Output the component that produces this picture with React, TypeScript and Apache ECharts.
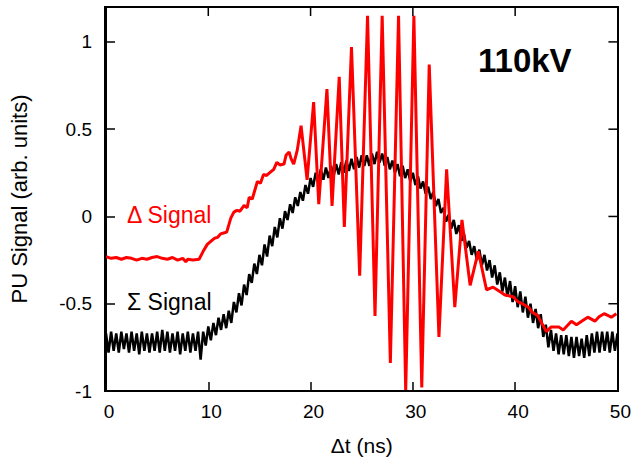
import React, { useEffect, useRef } from "react";
import * as echarts from "echarts";

// ---- Data ----
const xTicks = [0, 10, 20, 30, 40, 50];
const yTicks = [-1, -0.5, 0, 0.5, 1];
const X_MIN = 0;
const X_MAX = 50;
const Y_MIN = -1;
const Y_MAX = 1.2;

// Sigma signal: sampled every 0.25 ns from 0 to 50 ns
const sigmaStep = 0.25;
const sigmaValues = [
  -0.67, -0.78, -0.66, -0.77, -0.67, -0.78, -0.66, -0.76, -0.67, -0.78,
  -0.66, -0.77, -0.67, -0.79, -0.66, -0.77, -0.67, -0.78, -0.67, -0.77,
  -0.66, -0.78, -0.65, -0.77, -0.66, -0.78, -0.67, -0.77, -0.66, -0.79,
  -0.67, -0.77, -0.66, -0.78, -0.67, -0.77, -0.66, -0.82, -0.66, -0.74,
  -0.63, -0.71, -0.61, -0.68, -0.58, -0.65, -0.56, -0.64, -0.54, -0.61,
  -0.49, -0.55, -0.44, -0.51, -0.39, -0.45, -0.33, -0.38, -0.27, -0.33,
  -0.22, -0.28, -0.16, -0.23, -0.11, -0.17, -0.06, -0.12, -0.01, -0.07,
  0.03, -0.02, 0.07, 0.02, 0.11, 0.06, 0.14, 0.09, 0.18, 0.13,
  0.22, 0.17, 0.25, 0.2, 0.27, 0.21, 0.28, 0.22, 0.29, 0.23,
  0.3, 0.24, 0.31, 0.25, 0.32, 0.26, 0.33, 0.27, 0.34, 0.28,
  0.35, 0.29, 0.35, 0.29, 0.36, 0.3, 0.37, 0.31, 0.36, 0.29,
  0.34, 0.27, 0.32, 0.25, 0.3, 0.23, 0.29, 0.22, 0.27, 0.2,
  0.25, 0.18, 0.23, 0.16, 0.2, 0.13, 0.17, 0.1, 0.14, 0.06,
  0.1, 0.02, 0.05, -0.03, 0.01, -0.07, -0.02, -0.1, -0.05, -0.14,
  -0.1, -0.18, -0.14, -0.22, -0.17, -0.25, -0.19, -0.28, -0.22, -0.31,
  -0.25, -0.35, -0.28, -0.39, -0.32, -0.43, -0.35, -0.46, -0.37, -0.49,
  -0.4, -0.52, -0.43, -0.55, -0.46, -0.58, -0.5, -0.61, -0.53, -0.64,
  -0.56, -0.69, -0.62, -0.75, -0.65, -0.77, -0.67, -0.79, -0.68, -0.79,
  -0.68, -0.8, -0.69, -0.81, -0.69, -0.8, -0.7, -0.81, -0.68, -0.8,
  -0.67, -0.78, -0.66, -0.78, -0.66, -0.77, -0.66, -0.78, -0.66, -0.77,
  -0.67,
];

// Delta signal: [time (ns), signal]
const deltaPoints: [number, number][] = [
  [0, -0.23], [0.5, -0.24], [1, -0.235], [1.5, -0.245], [2, -0.235], [2.5, -0.24],
  [3, -0.25], [3.5, -0.24], [4, -0.245], [4.5, -0.235], [5, -0.23], [5.5, -0.24],
  [6, -0.245], [6.5, -0.235], [7, -0.25], [7.5, -0.24], [7.8, -0.26], [8, -0.245],
  [8.5, -0.25], [9.1, -0.245],
  [9.5, -0.2], [9.9, -0.16], [10.3, -0.14], [10.6, -0.125], [10.9, -0.12], [11.2, -0.1],
  [11.5, -0.095], [11.8, -0.09], [12.2, -0.01], [12.5, 0.025], [12.8, 0.035], [13.1, 0.03],
  [13.5, 0.063], [13.8, 0.05], [14.0, 0.11], [14.3, 0.1], [14.8, 0.2], [15.1, 0.19],
  [15.4, 0.24], [15.7, 0.235], [16.1, 0.255], [16.4, 0.27], [16.7, 0.31], [17.0, 0.295],
  [17.4, 0.3], [17.6, 0.35], [17.9, 0.37], [18.1, 0.33], [18.35, 0.3], [18.7, 0.38],
  [19.07, 0.52], [19.66, 0.21], [20.3, 0.655], [20.8, 0.07], [21.6, 0.73], [22.1, 0.06],
  [22.8, 0.8], [23.3, -0.06], [24.0, 0.97], [24.8, -0.34], [25.57, 1.15], [26.3, -0.57],
  [27.0, 1.15], [27.8, -0.84], [28.6, 1.15], [29.3, -1.0], [30.1, 1.15], [30.87, -0.98],
  [31.6, 0.87], [32.55, -0.69], [33.3, 0.27], [34.1, -0.52], [34.8, -0.02], [35.6, -0.395],
  [36.4, -0.2], [37.2, -0.42],
  [37.85, -0.405], [38.5, -0.43], [39.0, -0.45], [39.8, -0.46], [40.3, -0.49], [40.7, -0.5],
  [41.3, -0.52], [41.7, -0.55], [42.2, -0.567], [43.05, -0.66], [43.5, -0.634], [44.3, -0.634],
  [44.7, -0.65], [45.5, -0.6], [46.0, -0.62], [46.5, -0.6], [47.1, -0.577], [47.8, -0.6],
  [48.2, -0.575], [48.7, -0.557], [49.4, -0.577], [49.9, -0.557],
];

const sigmaPoints: [number, number][] = sigmaValues.map((v, i) => [i * sigmaStep, v]);

// ---- Layout ----
const W = 634;
const H = 462;
const GRID = { left: 105, right: 16, top: 7, bottom: 71 };
const FONT = "'Liberation Sans', Arial, Helvetica, sans-serif";
const TICK_LEN = 9;

const labelGraphics: any[] = [
  {
    type: "rect",
    id: "box",
    z: 100,
    silent: true,
    shape: {
      x: GRID.left,
      y: GRID.top,
      width: W - GRID.left - GRID.right,
      height: H - GRID.top - GRID.bottom,
    },
    style: { fill: "rgba(0,0,0,0)", stroke: "#000", lineWidth: 2 },
  },
  {
    type: "text",
    id: "kv",
    left: 478,
    top: 44,
    style: { text: "110kV", font: `bold 33px ${FONT}`, fill: "#000" },
  },
  {
    type: "text",
    id: "delta",
    left: 127,
    top: 203,
    style: { text: "Δ Signal", font: `23px ${FONT}`, fill: "#ff0000" },
  },
  {
    type: "text",
    id: "sigma",
    left: 127,
    top: 290,
    style: { text: "Σ Signal", font: `23px ${FONT}`, fill: "#000" },
  },
];

export default function App() {
  const ref = useRef<HTMLDivElement>(null);

  useEffect(() => {
    if (!ref.current) return;
    const chart = echarts.init(ref.current, undefined, { renderer: "svg" });

    chart.setOption({
      animation: false,
      backgroundColor: "#fff",
      grid: { ...GRID, containLabel: false },
      xAxis: {
        type: "value",
        min: X_MIN,
        max: X_MAX,
        interval: 10,
        position: "bottom",
        name: "Δt (ns)",
        nameLocation: "middle",
        nameGap: 44,
        nameTextStyle: { fontFamily: FONT, fontSize: 21, color: "#000" },
        axisLine: { show: true, onZero: false, lineStyle: { color: "#000", width: 2 } },
        axisTick: { show: true, inside: true, length: TICK_LEN, lineStyle: { color: "#000", width: 1.5 } },
        splitLine: { show: false },
        axisLabel: {
          fontFamily: FONT,
          fontSize: 19,
          color: "#000",
          margin: 11,
          padding: [0, 0, 0, 6],
        },
      },
      yAxis: {
        type: "value",
        min: Y_MIN,
        max: Y_MAX,
        interval: 0.5,
        position: "left",
        name: "PU Signal (arb. units)",
        nameLocation: "middle",
        nameGap: 76,
        nameTextStyle: { fontFamily: FONT, fontSize: 22, color: "#000" },
        axisLine: { show: true, onZero: false, lineStyle: { color: "#000", width: 2 } },
        axisTick: { show: true, inside: true, length: TICK_LEN, lineStyle: { color: "#000", width: 1.5 } },
        splitLine: { show: false },
        axisLabel: {
          fontFamily: FONT,
          fontSize: 19,
          color: "#000",
          margin: 14,
          showMaxLabel: false,
        },
      },
      series: [
        {
          name: "Σ Signal",
          type: "line",
          data: sigmaPoints,
          showSymbol: false,
          symbol: "none",
          lineStyle: { color: "#000", width: 2.5 },
          z: 2,
        },
        {
          name: "Δ Signal",
          type: "line",
          data: deltaPoints,
          showSymbol: false,
          symbol: "none",
          lineStyle: { color: "#ff0000", width: 3 },
          z: 3,
        },
      ],
      graphic: labelGraphics,
    });

    // Mirrored ticks on top and right edges, placed through the chart's own scales
    const tickGraphics: any[] = [];
    xTicks.slice(1, -1).forEach((v, i) => {
      const p = chart.convertToPixel({ gridIndex: 0 }, [v, Y_MAX]) as number[];
      if (!p) return;
      tickGraphics.push({
        type: "line",
        id: "tt" + i,
        z: 100,
        silent: true,
        shape: { x1: p[0], y1: p[1], x2: p[0], y2: p[1] + TICK_LEN },
        style: { stroke: "#000", lineWidth: 1.5 },
      });
    });
    yTicks.slice(1).forEach((v, i) => {
      const p = chart.convertToPixel({ gridIndex: 0 }, [X_MAX, v]) as number[];
      if (!p) return;
      tickGraphics.push({
        type: "line",
        id: "rt" + i,
        z: 100,
        silent: true,
        shape: { x1: p[0], y1: p[1], x2: p[0] - TICK_LEN, y2: p[1] },
        style: { stroke: "#000", lineWidth: 1.5 },
      });
    });
    if (tickGraphics.length) {
      chart.setOption({ graphic: [...labelGraphics, ...tickGraphics] });
    }

    return () => chart.dispose();
  }, []);

  return <div ref={ref} style={{ width: W, height: H, position: "absolute", left: 0, top: 0 }} />;
}
